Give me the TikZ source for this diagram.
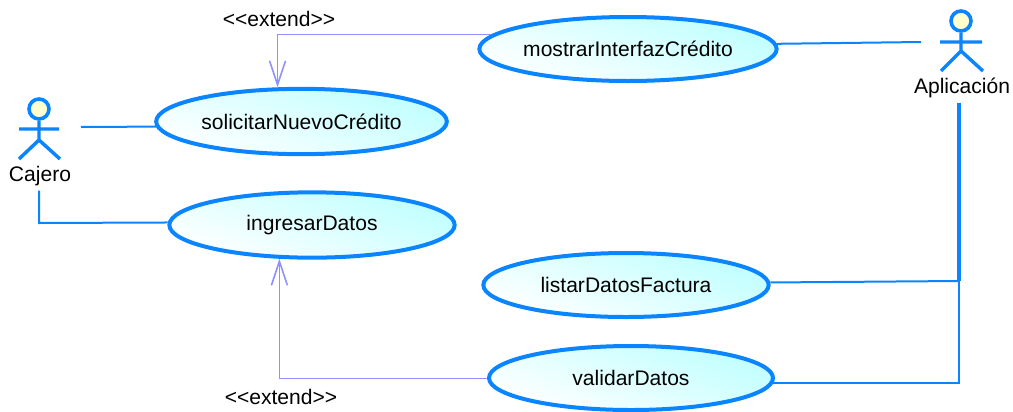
\documentclass[tikz,border=0pt]{standalone}
\usepackage{fontspec}
\setmainfont{Liberation Sans}
\usetikzlibrary{arrows.meta, shapes.geometric}
\definecolor{umlblue}{HTML}{0A84FF}
\definecolor{umlviolet}{HTML}{9090FF}
\definecolor{umlcyan}{HTML}{BFFFFF}
\definecolor{umlcream}{HTML}{FFFFD0}

\begin{document}
\begin{tikzpicture}[x=0.75pt, y=-0.75pt, font=\fontsize{15.8}{18}\selectfont]
\tikzstyle{usecase}=[ellipse, inner sep=0pt, line width=3pt, draw=umlblue, top color=umlcyan, bottom color=white, shading angle=-20]
\tikzstyle{head}=[circle, minimum size=15pt, inner sep=0pt, line width=2.7pt, draw=umlblue, fill=umlcream]
\tikzstyle{limb}=[line width=2.6pt, draw=umlblue]
\tikzstyle{assoc}=[line width=1.5pt, draw=umlblue]
\tikzstyle{extend}=[line width=0.7pt, draw=umlviolet, -{Straight Barb[length=18pt, width=12pt, line width=1.2pt]}]
\useasboundingbox (0,0) rectangle (1013,411);
    % casos de uso
    \node[usecase, minimum width=218pt, minimum height=49pt] (solicitar) at (301.5,121.5) {solicitarNuevoCrédito};
    \node[usecase, minimum width=214pt, minimum height=49pt] (ingresar) at (312,225) {ingresarDatos};
    \node[usecase, minimum width=223pt, minimum height=48pt] (mostrar) at (628,49) {mostrarInterfazCrédito};
    \node[usecase, minimum width=214pt, minimum height=48pt] (listar) at (626,285) {listarDatosFactura};
    \node[usecase, minimum width=213pt, minimum height=48pt] (validar) at (631,378) {validarDatos};
    % actores
    \node[head] (headCajero) at (39,109) { };
    \node (Cajero) at (40,176) {Cajero};
    \draw[limb] (headCajero.south) -- (39,140) -- (19,159) (39,140) -- (60,159) (19,129) -- (59,129);
    \node[head] (headApp) at (961,21) { };
    \node (Aplicacion) at (962,88) {Aplicación};
    \draw[limb] (headApp.south) -- (961,51) -- (941,71) (961,51) -- (983,71) (940,42) -- (982,42);
    % extremos libres
    \coordinate (outCajero) at (81,127);
    \coordinate (outApp) at (921,42);
    \coordinate (joinApp) at (959,281);
    % asociaciones
    \draw[assoc] (outCajero) -- (solicitar.182.2);
    \draw[assoc] (Cajero.south -| headCajero) -- (39,223) -- (ingresar.179.2);
    \draw[assoc] (mostrar.2.7) -- (outApp);
    \draw[line width=2.8pt, draw=umlblue] (Aplicacion.south -| joinApp) -- (joinApp);
    \draw[assoc] (listar.1.6) -- (joinApp);
    \draw[assoc] (validar.-2) -| (joinApp);
    % relaciones extend
    \draw[extend] (mostrar.174.5) -| (solicitar.125.8);
    \draw[extend] (validar.180) -| (ingresar.-134.8);
    \node (extendTop) at (279,19) {<{}<extend>{}>};
    \node (extendBottom) at (281,397) {<{}<extend>{}>};
\end{tikzpicture}
\end{document}
